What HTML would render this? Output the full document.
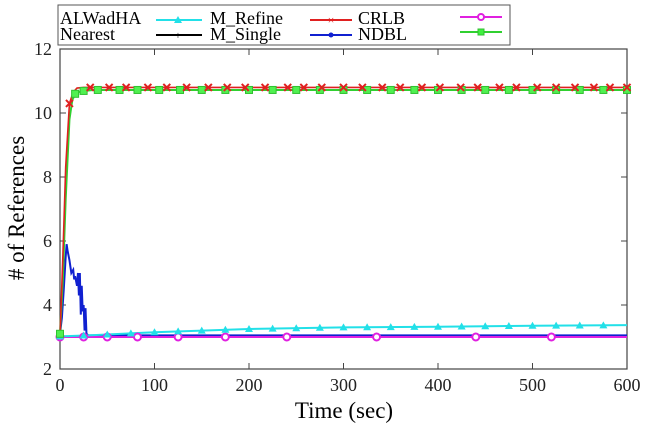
<!DOCTYPE html>
<html><head><meta charset="utf-8"><style>
html,body{margin:0;padding:0;background:#fff;}
svg{display:block;font-family:"Liberation Serif",serif;}
</style></head><body>
<svg id="chart" width="647" height="427">
<g>
<rect x="58" y="5" width="452" height="40" fill="#fff" stroke="#555" stroke-width="1"/>
<text x="60" y="24" font-size="18">ALWadHA</text>
<text x="60" y="40" font-size="18">Nearest</text>
<line x1="156" y1="20" x2="202" y2="20" stroke="#22e0e8" stroke-width="2"/><path d="M178,16 L182,23 L174,23Z" fill="#22e0e8"/>
<text x="210" y="24" font-size="18">M_Refine</text>
<line x1="156" y1="35" x2="202" y2="35" stroke="#000" stroke-width="2"/><text x="178" y="39" font-size="11" text-anchor="middle">+</text>
<text x="210" y="40" font-size="18">M_Single</text>
<line x1="310" y1="20" x2="352" y2="20" stroke="#e02020" stroke-width="2"/><text x="331" y="24" font-size="12" fill="#e02020" text-anchor="middle">×</text>
<text x="358" y="24" font-size="18">CRLB</text>
<line x1="310" y1="35" x2="352" y2="35" stroke="#1020d0" stroke-width="2"/><circle cx="331" cy="35" r="2.5" fill="#1020d0"/>
<text x="358" y="40" font-size="18">NDBL</text>
<line x1="460" y1="17" x2="502" y2="17" stroke="#e020e0" stroke-width="2"/><circle cx="481" cy="17" r="3" fill="#fff" stroke="#e020e0" stroke-width="2"/>
<line x1="460" y1="32" x2="502" y2="32" stroke="#30d030" stroke-width="2"/><rect x="478" y="29" width="6" height="6" fill="#40f040" stroke="#30c030"/>
</g>
<g id="plot"></g>
<text x="344" y="418" font-size="23" text-anchor="middle">Time (sec)</text>
<text transform="translate(24,208) rotate(-90)" font-size="23" text-anchor="middle"># of References</text>
</svg>
<script>
const xTicks=[0,100,200,300,400,500,600];
const yTicks=[2,4,6,8,10,12];
const crlbT=[0,3,6,10,14,18,25,600];
const crlbV=[3.0,5.5,8.3,10.3,10.65,10.78,10.8,10.8];
const crlbMarkT=[10,32,52,70,93,113,134,157,177,196,217,241,258,277,300,320,341,360,383,402,424,442,465,483,505,525,545,565,582,600];
const greenT=[0,3,6,10,13,16,22,35,600];
const greenV=[3.1,4.8,7.3,9.8,10.4,10.6,10.68,10.72,10.72];
const greenMarkT=[0,16,25,40,63,82,105,127,150,175,200,225,250,275,300,325,350,375,400,425,450,475,500,525,550,575,600];
const cyanT=[0,30,100,200,300,400,500,600];
const cyanV=[3.02,3.05,3.15,3.25,3.3,3.32,3.35,3.37];
const cyanMarkT=[0,25,50,75,100,125,150,175,200,225,250,275,300,325,350,375,400,425,450,475,500,525,550,575];
const magT=[0,600];
const magV=[3.0,3.0];
const magMarkT=[0,25,50,82,125,175,240,335,440,520];
const ndblT=[0,2,4,6,7,8,10,12,14,15,16,18,19,20,21,22,23,24,25,26,27,28,30,600];
const ndblV=[3.1,3.6,4.5,5.5,5.9,5.7,5.4,5.0,5.1,4.8,4.9,4.6,5.0,4.3,5.0,3.7,4.6,3.8,4.0,3.2,3.9,3.1,3.05,3.05];
const X0=60,X1=627,Y0=369,Y1=49;
const sx=t=>X0+(t/600)*(X1-X0);
const sy=v=>Y0-(v-2)/10*(Y0-Y1);
const NS="http://www.w3.org/2000/svg";
const g=document.getElementById('plot');
function mk(tag,attrs){const e=document.createElementNS(NS,tag);for(const k in attrs)e.setAttribute(k,attrs[k]);g.appendChild(e);return e;}
function interp(T,V,t){for(let i=0;i<T.length-1;i++){if(t<=T[i+1]){const f=(t-T[i])/(T[i+1]-T[i]);return V[i]+f*(V[i+1]-V[i]);}}return V[V.length-1];}
let fr=mk('rect',{x:X0,y:Y1,width:X1-X0,height:Y0-Y1,fill:'none',stroke:'#444','stroke-width':1.2});


xTicks.forEach(t=>{
  let l=mk('line',{x1:sx(t),x2:sx(t),y1:Y0,y2:Y0-6,stroke:'#444'});
  
  
  let l2=mk('line',{x1:sx(t),x2:sx(t),y1:Y1,y2:Y1+6,stroke:'#444'});
  
  
  let tx=mk('text',{x:sx(t),y:Y0+22,'font-size':18,'text-anchor':'middle',fill:'#222'});
  tx.textContent=t;
  
  
});
yTicks.forEach(v=>{
  let l=mk('line',{x1:X0,x2:X0+6,y1:sy(v),y2:sy(v),stroke:'#444'});
  
  
  let l2=mk('line',{x1:X1,x2:X1-6,y1:sy(v),y2:sy(v),stroke:'#444'});
  
  
  let tx=mk('text',{x:X0-8,y:sy(v)+6,'font-size':18,'text-anchor':'end',fill:'#222'});
  tx.textContent=v;
  
  
});
function line(T,V,color,name,w){
  const p=mk('path',{d:T.map((t,i)=>(i?'L':'M')+sx(t)+','+sy(V[i])).join(' '),fill:'none',stroke:color,'stroke-width':w||2});
  
  
}
line(ndblT,ndblV,'#1020d0','ndbl-line',2);
line(magT,magV,'#e020e0','magenta-line');
line(cyanT,cyanV,'#22e0e8','m-refine-line');
line(greenT,greenV,'#30d030','green-line');
line(crlbT,crlbV,'#e02020','crlb-line',1.6);
magMarkT.forEach(t=>{const c=mk('circle',{cx:sx(t),cy:sy(interp(magT,magV,t)),r:3.5,fill:'#fff',stroke:'#e020e0','stroke-width':2});

});
cyanMarkT.forEach(t=>{const x=sx(t),y=sy(interp(cyanT,cyanV,t));const p=mk('path',{d:`M${x},${y-4} L${x+4},${y+3} L${x-4},${y+3}Z`,fill:'#22e0e8'});

});
greenMarkT.forEach(t=>{const x=sx(t),y=sy(interp(greenT,greenV,t));const r=mk('rect',{x:x-3.5,y:y-3.5,width:7,height:7,fill:'#50f050',stroke:'#30c030'});

});
crlbMarkT.forEach(t=>{const x=sx(t),y=sy(interp(crlbT,crlbV,t));const p=mk('path',{d:`M${x-3.5},${y-3.5} L${x+3.5},${y+3.5} M${x+3.5},${y-3.5} L${x-3.5},${y+3.5}`,stroke:'#e02020','stroke-width':2});

});
</script>
</body></html>
